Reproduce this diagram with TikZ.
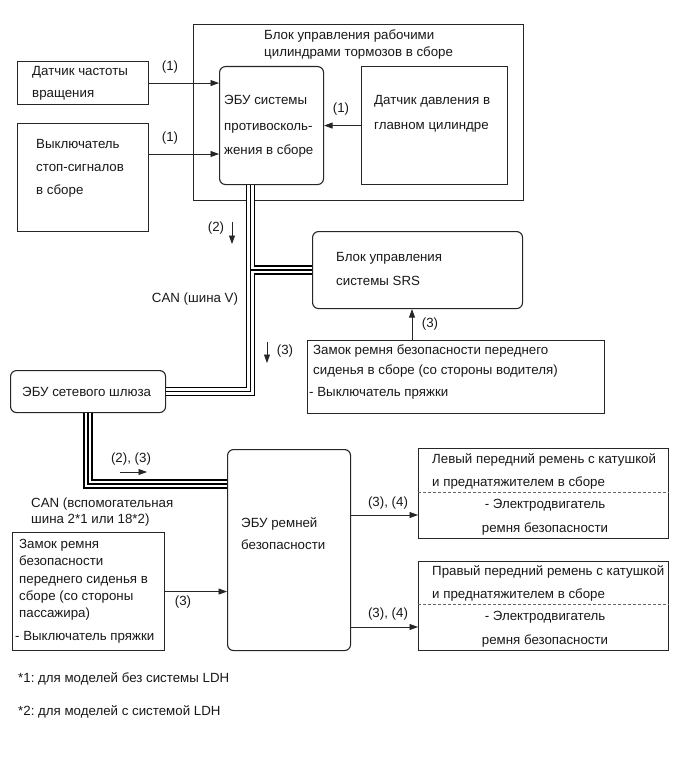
\documentclass[tikz,border=0pt]{standalone}
\usepackage{fontspec}
\setmainfont{Liberation Sans}
\usetikzlibrary{arrows.meta}
\frenchspacing
\begin{document}
\begin{tikzpicture}[x=1pt,y=-1pt,
  box/.style={draw=black!85, line width=1.1pt, inner sep=0pt, anchor=north west},
  rbox/.style={box, rounded corners=6pt},
  lbl/.style={anchor=base west, inner sep=0pt, font=\fontsize{13.3}{16}\selectfont, text=black!90},
  clbl/.style={anchor=base, inner sep=0pt, font=\fontsize{13.3}{16}\selectfont, text=black!90},
  arr/.style={draw=black!85, line width=0.8pt, -{Triangle[length=8.5pt,width=6pt]}},
  sep/.style={draw=black!60, line width=0.7pt, dash pattern=on 3pt off 2pt}]
\fill[white] (0,0) rectangle (689,757);
\useasboundingbox (0,0) rectangle (689,757);

% boxes
\node[box, minimum width=330pt, minimum height=176pt] (brake) at (193,24) {};
\node[rbox, minimum width=104pt, minimum height=118pt] (ecu) at (219,66) {};
\node[box, minimum width=146pt, minimum height=118pt] (sensor) at (361,66) {};
\node[box, minimum width=131pt, minimum height=43pt] (left1) at (17,61) {};
\node[box, minimum width=131pt, minimum height=108pt] (left2) at (17,123) {};
\node[rbox, minimum width=210pt, minimum height=77pt] (srs) at (312,231) {};
\node[box, minimum width=297pt, minimum height=73pt] (driver) at (307,340) {};
\node[rbox, minimum width=155pt, minimum height=42pt] (gw) at (10,370) {};
\node[rbox, minimum width=123pt, minimum height=201pt] (ecub) at (227,449) {};
\node[box, minimum width=152pt, minimum height=118pt] (pass) at (12,532) {};
\node[box, minimum width=250pt, minimum height=90pt] (right1) at (418,448) {};
\node[box, minimum width=250pt, minimum height=89pt] (right2) at (418,561) {};

% dashed separators
\draw[sep] ([yshift=-44pt]right1.north west) -- ([yshift=-44pt]right1.north east);
\draw[sep] ([yshift=-43pt]right2.north west) -- ([yshift=-43pt]right2.north east);

% texts
\node[lbl] (tb1) at (264,40) {Блок управления рабочими};
\node[lbl] (tb2) at (264,57) {цилиндрами тормозов в сборе};
\node[lbl] (tl1) at (32,76) {Датчик частоты};
\node[lbl] (tl2) at (32,98) {вращения};
\node[lbl] (tk1) at (36,148) {Выключатель};
\node[lbl] (tk2) at (36,171) {стоп-сигналов};
\node[lbl] (tk3) at (36,194) {в сборе};
\node[lbl] (te1) at (224,105) {ЭБУ системы};
\node[lbl] (te2) at (224,131) {противосколь-};
\node[lbl] (te3) at (224,154) {жения в сборе};
\node[lbl] (ts1) at (374,105) {Датчик давления в};
\node[lbl] (ts2) at (374,130) {главном цилиндре};
\node[lbl] (tr1) at (336,261) {Блок управления};
\node[lbl] (tr2) at (336,285) {системы SRS};
\node[lbl] (td1) at (313,354) {Замок ремня безопасности переднего};
\node[lbl] (td2) at (313,374) {сиденья в сборе (со стороны водителя)};
\node[lbl] (td3) at (309,396) {- Выключатель пряжки};
\node[lbl] (tg1) at (22,396) {ЭБУ сетевого шлюза};
\node[lbl] (tc1) at (31,507) {CAN (вспомогательная};
\node[lbl] (tc2) at (31,523) {шина 2*1 или 18*2)};
\node[lbl] (tu1) at (241,527) {ЭБУ ремней};
\node[lbl] (tu2) at (241,549) {безопасности};
\node[lbl] (tp1) at (19,548) {Замок ремня};
\node[lbl] (tp2) at (19,565) {безопасности};
\node[lbl] (tp3) at (19,583) {переднего сиденья в};
\node[lbl] (tp4) at (19,600) {сборе (со стороны};
\node[lbl] (tp5) at (19,617) {пассажира)};
\node[lbl] (tp6) at (15,640) {- Выключатель пряжки};
\node[lbl] (ta1) at (432,463) {Левый передний ремень с катушкой};
\node[lbl] (ta2) at (432,486) {и преднатяжителем в сборе};
\node[clbl] (ta3) at (545,508) {- Электродвигатель};
\node[clbl] (ta4) at (545,532) {ремня безопасности};
\node[lbl] (tq1) at (432,575) {Правый передний ремень с катушкой};
\node[lbl] (tq2) at (432,598) {и преднатяжителем в сборе};
\node[clbl] (tq3) at (545,620) {- Электродвигатель};
\node[clbl] (tq4) at (545,644) {ремня безопасности};
\node[lbl] (tf1) at (18,682) {*1: для моделей без системы LDH};
\node[lbl] (tf2) at (18,715) {*2: для моделей с системой LDH};

% CAN buses
\coordinate (busA) at ([xshift=-21pt]ecu.south);
\coordinate (busB) at ([yshift=-35pt]ecub.north west);
\foreach \lw/\col in {9.5pt/black, 6.3pt/white, 1.4pt/black}{
  \draw[line width=\lw, draw=\col]
    (busA) |- (gw.east)
    (srs.west) -- (srs.west -| busA)
    (gw.south) |- (busB);
}

% arrows
\draw[arr] (left1.east) -- (left1.east -| ecu.west);
\coordinate (a2) at ([yshift=-31pt]left2.north east);
\draw[arr] (a2) -- (a2 -| ecu.west);
\draw[arr] (sensor.west) -- (ecu.east);
\coordinate (d3) at ([xshift=105pt]driver.north west);
\draw[arr] (d3) -- (d3 |- srs.south);
\draw[arr] (pass.east) -- (pass.east -| ecub.west);
\coordinate (r1) at ([yshift=-67pt]right1.north west);
\draw[arr] (r1 -| ecub.east) -- (r1);
\coordinate (r2) at ([yshift=-66pt]right2.north west);
\draw[arr] (r2 -| ecub.east) -- (r2);
% free direction arrows
\coordinate (f2s) at (232,222); \coordinate (f2e) at (232,244);
\draw[arr] (f2s) -- (f2e);
\coordinate (f3s) at (267,342); \coordinate (f3e) at (267,363);
\draw[arr] (f3s) -- (f3e);
\coordinate (f4s) at (120,472); \coordinate (f4e) at (147,472);
\draw[arr] (f4s) -- (f4e);

% arrow labels
\node[clbl] (l1) at (170,71) {(1)};
\node[clbl] (l2) at (170,141) {(1)};
\node[clbl] (l3) at (341,113) {(1)};
\node[clbl] (l4) at (216,231) {(2)};
\node[clbl] (l5) at (195,302) {CAN (шина V)};
\node[clbl] (l6) at (285,354) {(3)};
\node[clbl] (l7) at (430,327) {(3)};
\node[clbl] (l8) at (131,462) {(2), (3)};
\node[clbl] (l9) at (183,605) {(3)};
\node[clbl] (l10) at (388,506) {(3), (4)};
\node[clbl] (l11) at (388,617) {(3), (4)};
\end{tikzpicture}
\end{document}
